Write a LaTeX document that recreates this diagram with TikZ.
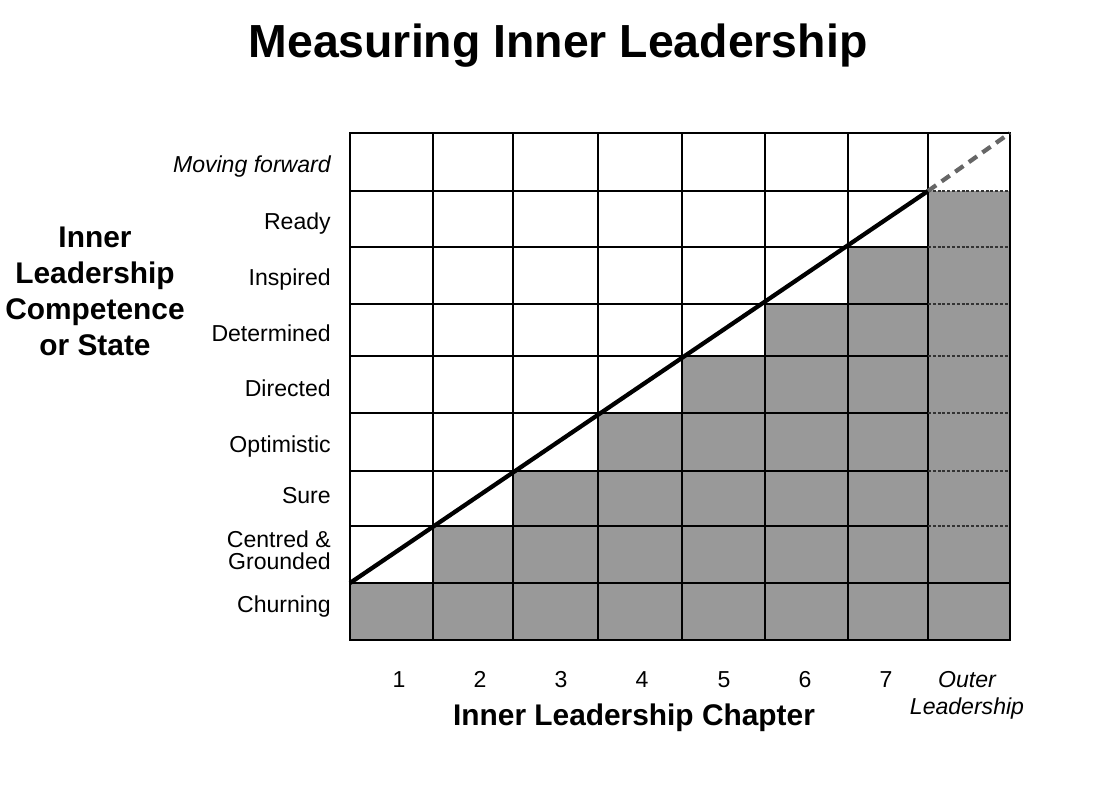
\documentclass[tikz,border=0pt]{standalone}
\usepackage{fontspec}
\setmainfont{Liberation Sans}
\definecolor{cellgray}{HTML}{999999}
\definecolor{extgray}{HTML}{666666}
\tikzset{
  rowlabel/.style={anchor=base east, inner sep=0pt, font=\fontsize{17.3}{16.5}\selectfont},
  collabel/.style={anchor=base, inner sep=0pt, font=\fontsize{17.3}{16.5}\selectfont},
  axislabel/.style={inner sep=0pt, align=center, font=\fontsize{22.4}{27}\selectfont\bfseries},
  gridline/.style={line width=1.1pt, black},
  outerdash/.style={line width=0.9pt, black!80, dash pattern=on 2.2pt off 1.4pt},
  borderline/.style={line width=1.9pt, black},
  trendline/.style={line width=3.2pt, black},
  trendext/.style={line width=3.2pt, extgray, dash pattern=on 7.5pt off 5pt}
}
\begin{document}
\begin{tikzpicture}[x=0.75pt,y=-0.75pt]
\useasboundingbox (0,0) rectangle (1118,808);
% title
\node[inner sep=0pt, font=\fontsize{34.8}{40}\selectfont\bfseries] (title) at (558,46) {Measuring Inner Leadership};
% gray staircase
\fill[cellgray] (350,583) rectangle (433,640);
\fill[cellgray] (433,526) rectangle (513,640);
\fill[cellgray] (513,471) rectangle (598,640);
\fill[cellgray] (598,413) rectangle (682,640);
\fill[cellgray] (682,356) rectangle (765,640);
\fill[cellgray] (765,304) rectangle (848,640);
\fill[cellgray] (848,247) rectangle (928,640);
\fill[cellgray] (928,191) rectangle (1010,640);
% vertical grid lines
\foreach \x in {433,513,598,682,765,848,928}
  \draw[gridline] (\x,133) -- (\x,640);
% horizontal grid lines
\foreach \y in {191,247,304,356,413,471,526,583}
  \draw[gridline] (350,\y) -- (928,\y);
\draw[gridline] (928,583) -- (1010,583);
\foreach \y in {191,247,304,356,413,471,526}
  \draw[outerdash] (928,\y) -- (1010,\y);
% border
\draw[borderline] (350,133) rectangle (1010,640);
% trend line
\coordinate (start) at (350,583);
\coordinate (knee) at (928,191);
\coordinate (finish) at (1010,133);
\draw[trendline] (start) -- (knee);
\draw[trendext] (knee) -- (finish);
% row labels
\node[rowlabel, font=\fontsize{17.3}{16.5}\selectfont\itshape] (r9) at (331,172) {Moving forward};
\node[rowlabel] (r8) at (331,229) {Ready};
\node[rowlabel] (r7) at (331,285) {Inspired};
\node[rowlabel] (r6) at (331,341) {Determined};
\node[rowlabel] (r5) at (331,396) {Directed};
\node[rowlabel] (r4) at (331,452) {Optimistic};
\node[rowlabel] (r3) at (331,503) {Sure};
\node[rowlabel, align=right] (r2) at (331,569) {Centred \&\\Grounded};
\node[rowlabel] (r1) at (331,612) {Churning};
% column labels
\node[collabel] (c1) at (399,687) {1};
\node[collabel] (c2) at (480,687) {2};
\node[collabel] (c3) at (561,687) {3};
\node[collabel] (c4) at (642,687) {4};
\node[collabel] (c5) at (724,687) {5};
\node[collabel] (c6) at (805,687) {6};
\node[collabel] (c7) at (886,687) {7};
\node[inner sep=0pt, align=center, font=\fontsize{17.3}{20.3}\selectfont\itshape] (c8) at (967,695) {Outer\\Leadership};
% axis labels
\node[axislabel] (ylab) at (95,291) {Inner\\Leadership\\Competence\\or State};
\node[axislabel] (xlab) at (634,718) {Inner Leadership Chapter};
\end{tikzpicture}
\end{document}
